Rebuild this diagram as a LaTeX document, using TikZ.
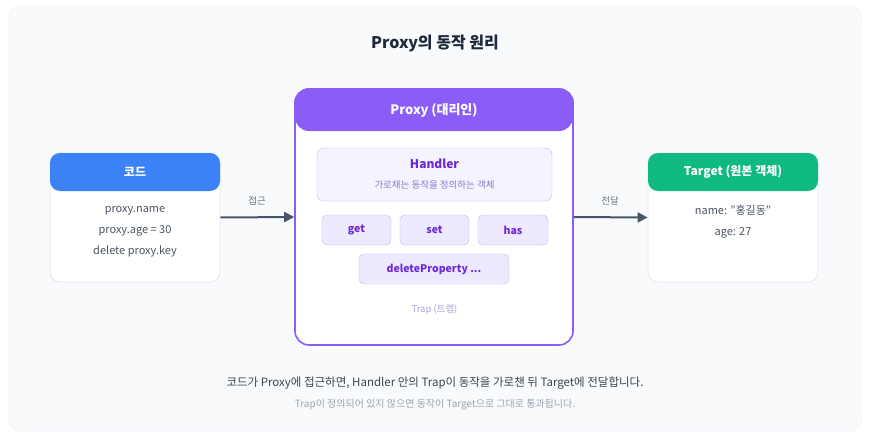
\documentclass[tikz,border=0pt]{standalone}
\usepackage{fontspec}
\setmainfont{Noto Sans CJK KR}
\usetikzlibrary{arrows.meta,positioning}
\definecolor{bgc}{HTML}{F8FAFC}
\definecolor{bgb}{HTML}{EEF1F5}
\definecolor{ttl}{HTML}{1E293B}
\definecolor{blu}{HTML}{3B82F6}
\definecolor{grn}{HTML}{10B981}
\definecolor{pur}{HTML}{8B5CF6}
\definecolor{dpur}{HTML}{6D28D9}
\definecolor{lpur}{HTML}{EDE9FE}
\definecolor{vlpur}{HTML}{F5F3FF}
\definecolor{bpur}{HTML}{C4B5FD}
\definecolor{mpur}{HTML}{8B7BC8}
\definecolor{txt}{HTML}{4B5563}
\definecolor{arr}{HTML}{475569}
\definecolor{lbl}{HTML}{6B7280}
\definecolor{lt}{HTML}{9CA3AF}
\definecolor{shd}{HTML}{E2E8F0}
\tikzset{
 card/.style={draw=shd,fill=white,rounded corners=10pt,line width=0.8pt},
 hdr/.style={rounded corners=10pt,text=white,font=\bfseries\fontsize{12}{14}\selectfont},
 body/.style={align=center,text=txt,font=\fontsize{11}{21}\selectfont},
 trapbox/.style={draw=bpur,fill=lpur,rounded corners=5pt,text=dpur,font=\bfseries\fontsize{10.5}{12}\selectfont,inner sep=0pt,minimum height=30pt},
 conn/.style={draw=arr,line width=2pt,-{Triangle[length=10pt,width=10pt]}},
 clbl/.style={text=lbl,font=\fontsize{9.5}{11}\selectfont}
}
\begin{document}
\begin{tikzpicture}[x=1pt,y=-1pt]
\useasboundingbox (0,0) rectangle (870,439);
\fill[white] (0,0) rectangle (870,439);
\draw[fill=bgc,draw=bgb,rounded corners=14pt] (8,5) rectangle (862,432);
\node[text=ttl,font=\bfseries\fontsize{16}{18}\selectfont] (title) at (435,43) {Proxy의 동작 원리};
% code card
\node[card,minimum width=170pt,minimum height=129pt] (code) at (135,217.5) {};
\fill[blu,rounded corners=10pt] (50,153) rectangle (220,191);
\node[hdr] (codeh) at (135,172) {코드};
\node[body] (codeb) at (135,232) {proxy.name\\proxy.age = 30\\delete proxy.key};
% target card
\node[card,minimum width=170pt,minimum height=129pt] (target) at (733,217.5) {};
\fill[grn,rounded corners=10pt] (648,153) rectangle (818,191);
\node[hdr] (targeth) at (733,172) {Target (원본 객체)};
\node[body] (targetb) at (733,221.5) {name: "홍길동"\\age: 27};
% proxy
\node[draw=pur,fill=white,rounded corners=14pt,line width=1.6pt,minimum width=278pt,minimum height=256pt] (proxy) at (434,217) {};
\fill[pur,rounded corners=14pt] (295,89) rectangle (573,131);
\draw[pur,line width=1.6pt,rounded corners=14pt] (295,120) -- (295,89) -- (573,89) -- (573,120);
\node[hdr,font=\bfseries\fontsize{13}{15}\selectfont] (proxyh) at (434,110) {Proxy (대리인)};
\node[draw=bpur,fill=vlpur,rounded corners=7pt,minimum width=235pt,minimum height=53pt] (handler) at (434.5,174.5) {};
\node[text=dpur,font=\bfseries\fontsize{12}{14}\selectfont] (hname) at (434.5,164) {Handler};
\node[text=mpur,font=\fontsize{9.5}{11}\selectfont] (hdesc) at (434.5,185) {가로채는 동작을 정의하는 객체};
\node[trapbox,minimum width=69pt] (get) at (356.5,230) {get};
\node[trapbox,minimum width=69pt] (set) at (434.5,230) {set};
\node[trapbox,minimum width=70pt] (has) at (513,230) {has};
\node[trapbox,minimum width=150pt] (del) at (434,269) {deleteProperty ...};
\node[text=mpur!70,font=\fontsize{9.5}{11}\selectfont] (trap) at (434.5,310) {Trap (트랩)};
% connectors
\draw[conn] (code.east) -- (proxy.west);
\node[clbl] (l1) at (257,201) {접근};
\draw[conn] (proxy.east) -- (target.west);
\node[clbl] (l2) at (610,201) {전달};
% captions
\node[text=txt!80!black,font=\fontsize{11.5}{13}\selectfont] (cap1) at (435,383) {코드가 Proxy에 접근하면, Handler 안의 Trap이 동작을 가로챈 뒤 Target에 전달합니다.};
\node[text=lt,font=\fontsize{10}{12}\selectfont] (cap2) at (435,405) {Trap이 정의되어 있지 않으면 동작이 Target으로 그대로 통과됩니다.};
\end{tikzpicture}
\end{document}
